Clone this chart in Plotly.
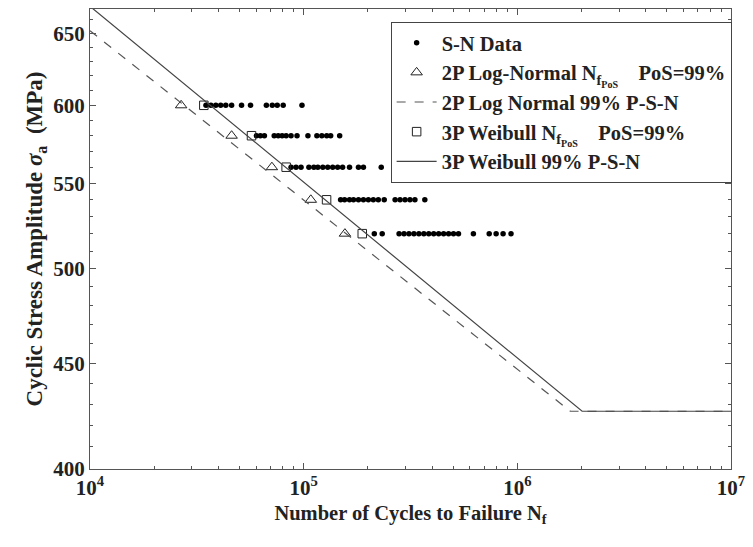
import math
import plotly.graph_objects as go

# ---------------- data ----------------
sn_600_N = [34900, 36800, 38800, 40900, 43200, 46000, 51200, 56400, 66900, 71300, 75200, 80200, 98200]
sn_580_N = [60100, 62700, 65500, 72800, 76000, 79300, 82800, 87300, 93100, 104700, 115300, 121600, 128200, 133800, 147400]
sn_560_N = [87300, 92100, 97200, 105800, 111600, 116500, 122900, 129600, 136700, 144200, 152100, 163900, 180500, 190400, 230700]
sn_540_N = [148900, 155400, 163900, 171100, 180500, 190400, 200800, 211800, 223500, 238200, 267900, 282600, 298100, 314400, 331600, 369000]
sn_520_N = [214100, 233100, 279600, 294900, 311000, 328100, 346100, 365100, 385000, 406100, 428400, 451900, 476800,
            502700, 530300, 622700, 738500, 795700, 857600, 934000]
stress_levels = [600, 580, 560, 540, 520]

lognorm_N = [26700, 46000, 71000, 108000, 156000]
lognorm_S = [600, 580, 560, 540, 520]
weibull_N = [34100, 57000, 82800, 128000, 188000]
weibull_S = [600, 580, 560, 540, 520]

psn_lognorm_N = [1e4, 1.77e6, 1e7]
psn_lognorm_S = [652, 426.6, 426.6]
psn_weibull_N = [1e4, 2.01e6, 1e7]
psn_weibull_S = [670, 426.6, 426.6]

x_tick_vals = [1e4, 1e5, 1e6, 1e7]
x_tick_text = ["10<sup>4</sup>", "10<sup>5</sup>", "10<sup>6</sup>", "10<sup>7</sup>"]
y_tick_vals = [400, 450, 500, 550, 600, 650]

# ---------------- build ----------------
sn_N = []
sn_S = []
for s, arr in zip(stress_levels, [sn_600_N, sn_580_N, sn_560_N, sn_540_N, sn_520_N]):
    sn_N += arr
    sn_S += [s] * len(arr)

FONT = "Liberation Serif"
TXT = "#222"
fig = go.Figure()

fig.add_trace(go.Scatter(x=sn_N, y=sn_S, mode="markers", name="<b>S-N Data</b>",
                         marker=dict(symbol="circle", size=5.5, color="black")))
fig.add_trace(go.Scatter(x=lognorm_N, y=lognorm_S, mode="markers",
                         name="<b>2P Log-Normal N<sub>f<sub>PoS</sub></sub>    PoS=99%</b>",
                         marker=dict(symbol="triangle-up-open", size=10, color="#222", line=dict(width=1))))
fig.add_trace(go.Scatter(x=psn_lognorm_N, y=psn_lognorm_S, mode="lines",
                         name="<b>2P Log Normal 99% P-S-N</b>",
                         line=dict(color="#555", width=1.2, dash="dash")))
fig.add_trace(go.Scatter(x=weibull_N, y=weibull_S, mode="markers",
                         name="<b>3P Weibull N<sub>f<sub>PoS</sub></sub>    PoS=99%</b>",
                         marker=dict(symbol="square-open", size=8.5, color="#222", line=dict(width=1))))
fig.add_trace(go.Scatter(x=psn_weibull_N, y=psn_weibull_S, mode="lines",
                         name="<b>3P Weibull 99% P-S-N</b>",
                         line=dict(color="#444", width=1.2)))

minor_x = [m * 10 ** e for e in range(4, 7) for m in range(2, 10)]
minor_y = [v for v in range(400, 670, 10) if v % 50 != 0]

fig.update_layout(
    width=753, height=547,
    margin=dict(l=90, r=16, t=8, b=78),
    paper_bgcolor="white", plot_bgcolor="white",
    font=dict(family=FONT, size=20, color=TXT),
    legend=dict(x=0.469, y=0.972, xanchor="left", yanchor="top",
                bordercolor="#444", borderwidth=1, bgcolor="white",
                font=dict(family=FONT, size=20.5, color=TXT),
                tracegroupgap=0, itemwidth=40),
    showlegend=True,
)
fig.update_xaxes(type="log", range=[4, 7], tickvals=x_tick_vals,
                 ticktext=[f"<b>{t}</b>" for t in x_tick_text],
                 ticks="inside", ticklen=6, tickcolor="#555", showline=True, linecolor="#555",
                 linewidth=1, mirror="ticks", showgrid=False, zeroline=False,
                 tickfont=dict(family=FONT, size=21, color=TXT),
                 minor=dict(tickvals=minor_x, ticks="inside", ticklen=3, tickcolor="#555"),
                 title=dict(text="<b>Number of Cycles to Failure N<sub>f</sub></b>",
                            font=dict(family=FONT, size=20.5, color=TXT), standoff=6))
fig.update_yaxes(type="log", range=[math.log10(400), math.log10(668)], tickvals=y_tick_vals,
                 ticktext=[f"<b>{v}</b>" for v in y_tick_vals],
                 ticks="inside", ticklen=6, tickcolor="#555", showline=True, linecolor="#555",
                 linewidth=1, mirror="ticks", showgrid=False, zeroline=False,
                 tickfont=dict(family=FONT, size=21, color=TXT),
                 minor=dict(tickvals=minor_y, ticks="inside", ticklen=3, tickcolor="#555"),
                 title=dict(text="<b>Cyclic Stress Amplitude <i>σ</i><sub>a</sub>  (MPa)</b>",
                            font=dict(family=FONT, size=23, color=TXT), standoff=4))

fig.write_html("out.html")
